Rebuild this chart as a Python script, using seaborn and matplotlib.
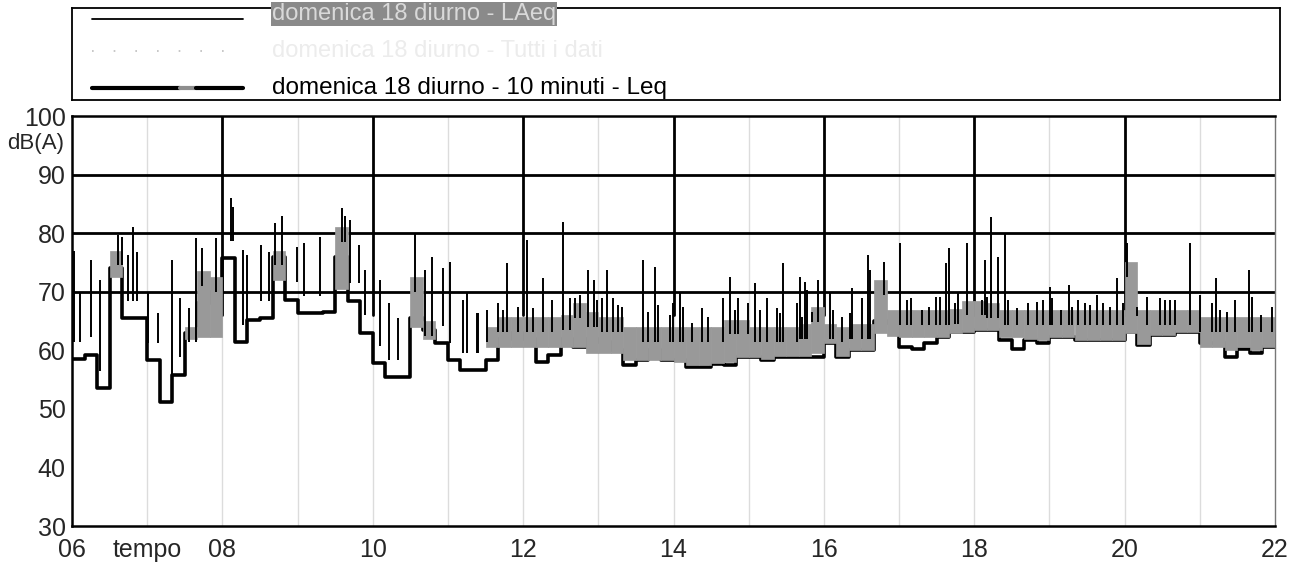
import numpy as np
import pandas as pd
import seaborn as sns
import matplotlib.pyplot as plt

# 10-minute Leq, 96 intervals from 06:00 to 22:00
leq_10min = [58.5, 59.2, 53.5, 74.0, 65.5, 65.5, 58.3, 51.2, 55.8, 63.0, 68.0, 70.0,
             75.7, 61.4, 65.2, 65.5, 76.0, 68.6, 66.3, 66.3, 66.5, 76.0, 68.5, 63.0,
             57.8, 55.4, 55.4, 65.5, 63.5, 61.2, 58.3, 56.6, 56.6, 58.3, 62.0, 63.0,
             62.0, 58.0, 59.2, 62.0, 60.5, 62.0, 61.5, 60.0, 57.5, 58.3, 60.0, 58.3,
             58.3, 57.1, 57.1, 57.7, 57.5, 58.8, 58.8, 58.3, 58.8, 58.8, 58.8, 58.8,
             61.2, 58.8, 60.0, 60.0, 65.0, 64.6, 60.5, 60.3, 61.2, 62.3, 63.2, 63.2,
             63.5, 63.5, 61.7, 60.3, 61.7, 61.2, 62.3, 62.3, 61.7, 61.7, 61.7, 61.7,
             63.2, 60.9, 62.6, 62.6, 63.2, 63.2, 61.2, 61.2, 58.8, 60.3, 59.5, 60.6]

# short LAeq trace (grey), low / high inside each 10-minute interval
nan = np.nan
laeq_lo = [nan, nan, nan, 72.5, nan, nan, nan, nan, nan, 62.0, 62.3, 62.3,
           nan, nan, nan, nan, 72.0, nan, nan, nan, nan, 70.5, nan, nan,
           nan, nan, nan, 64.0, 62.0, nan, nan, nan, nan, 60.5, 60.5, 60.5,
           60.5, 60.5, 60.5, 60.5, 60.5, 59.5, 59.5, 59.5, 58.3, 58.3, 58.3, 58.3,
           58.0, 57.5, 57.5, 57.8, 58.0, 58.8, 58.8, 58.5, 59.0, 59.0, 59.0, 59.5,
           61.2, 59.0, 60.0, 60.0, 63.0, 62.5, 62.3, 62.3, 62.3, 62.3, 63.0, 63.2,
           63.5, 63.5, 62.3, 62.3, 62.0, 61.7, 62.3, 62.3, 61.7, 61.7, 61.7, 61.7,
           63.0, 61.0, 62.6, 62.6, 63.2, 63.2, 60.5, 60.5, 60.0, 60.5, 60.0, 60.5]
laeq_hi = [nan, nan, nan, 77.0, nan, nan, nan, nan, nan, 64.0, 73.5, 72.5,
           nan, nan, nan, nan, 77.0, nan, nan, nan, nan, 81.0, nan, nan,
           nan, nan, nan, 72.5, 65.0, nan, nan, nan, nan, 64.0, 65.7, 65.7,
           65.7, 65.7, 65.7, 66.0, 68.0, 66.5, 65.7, 65.7, 64.0, 64.0, 64.0, 64.0,
           64.0, 64.0, 64.0, 64.0, 65.2, 65.2, 64.0, 64.0, 64.0, 64.0, 64.5, 67.4,
           64.5, 64.0, 64.5, 64.5, 72.0, 66.9, 66.9, 66.9, 66.9, 66.9, 67.0, 68.5,
           68.5, 68.0, 66.9, 66.9, 66.9, 66.9, 66.9, 66.9, 66.9, 66.9, 66.9, 66.9,
           75.0, 66.9, 66.9, 66.9, 66.9, 66.9, 65.7, 65.7, 65.7, 65.7, 65.7, 65.7]

# short peaks (black spikes): hour, level
peak_hours = [6.03, 6.11, 6.25, 6.37, 6.61, 6.66, 6.74, 6.81, 6.86, 7.01, 7.14, 7.33,
              7.44, 7.56, 7.65, 7.73, 7.91, 8.11, 8.14, 8.27, 8.33, 8.51, 8.62, 8.70,
              8.79, 8.99, 9.09, 9.30, 9.59, 9.63, 9.70, 9.82, 9.90, 10.10, 10.22, 10.34,
              10.56, 10.69, 10.79, 10.93, 11.03, 11.20, 11.25, 11.39, 11.78, 12.05, 12.26, 12.53,
              12.86, 12.94, 13.11, 13.59, 13.75, 14.75, 15.08, 15.45, 15.68, 15.75, 15.92, 16.37,
              16.59, 16.61, 16.80, 17.01, 17.62, 17.66, 17.91, 18.14, 18.22, 18.31, 18.41, 19.01,
              19.26, 19.90, 20.03, 20.87, 21.21, 21.65,
              11.40, 11.52, 11.67, 11.73, 11.93, 12.13, 12.38, 12.62, 12.69, 12.76, 12.98, 13.05,
              13.19, 13.26, 13.31, 13.66, 13.79, 13.95, 13.99, 14.09, 14.13, 14.24, 14.38, 14.46,
              14.66, 14.82, 14.86, 14.99, 15.15, 15.24, 15.37, 15.41, 15.64, 15.71, 15.77, 15.84,
              16.08, 16.12, 16.24, 16.35, 16.51, 17.10, 17.16, 17.31, 17.40, 17.49, 17.55, 17.74,
              17.78, 18.10, 18.17, 18.45, 18.57, 18.71, 18.83, 18.91, 19.03, 19.16, 19.38, 19.30,
              19.47, 19.54, 19.63, 19.71, 19.80, 19.98, 20.16, 20.30, 20.47, 20.54, 20.60, 20.67,
              21.00, 21.16, 21.27, 21.36, 21.47, 21.69, 21.82, 21.96]
peak_levels = [77.0, 69.8, 75.4, 72.0, 79.7, 79.3, 76.2, 81.0, 76.8, 69.8, 66.3, 75.4,
               69.0, 67.2, 79.1, 77.4, 79.1, 86.0, 84.4, 77.1, 76.2, 78.0, 76.8, 81.7,
               83.0, 77.6, 78.3, 79.3, 84.3, 83.0, 82.2, 78.0, 73.7, 72.0, 68.0, 65.5,
               80.0, 73.7, 75.9, 74.0, 75.0, 68.6, 69.8, 66.3, 74.9, 78.8, 72.3, 81.9,
               73.7, 72.0, 73.7, 75.4, 74.2, 72.5, 71.5, 74.9, 72.5, 71.6, 72.0, 70.6,
               76.2, 73.7, 75.0, 78.3, 74.9, 77.4, 78.3, 75.4, 82.7, 75.9, 80.0, 70.8,
               71.1, 72.3, 78.3, 78.3, 72.3, 73.7,
               66.3, 66.9, 68.0, 66.9, 67.4, 67.2, 68.6, 68.9, 69.0, 69.4, 68.6, 68.9,
               68.9, 67.7, 67.4, 66.5, 67.7, 66.0, 68.0, 69.8, 67.4, 64.6, 67.2, 65.7,
               69.0, 66.9, 69.0, 68.0, 66.9, 69.0, 67.2, 66.3, 68.0, 65.7, 70.3, 66.5,
               69.8, 66.9, 65.7, 66.3, 69.0, 68.6, 68.9, 66.9, 67.4, 69.1, 69.1, 68.0,
               69.8, 68.6, 69.1, 68.6, 67.2, 68.0, 68.2, 68.6, 68.9, 66.9, 68.6, 67.4,
               68.0, 67.7, 69.4, 68.0, 67.4, 68.0, 67.4, 69.1, 68.9, 68.6, 68.6, 68.6,
               69.4, 68.0, 66.9, 66.5, 68.6, 69.1, 66.0, 67.4]

hour_ticks = list(range(6, 23))
hour_labels = ["06", "tempo", "08", "", "10", "", "12", "", "14", "", "16", "", "18", "", "20", "", "22"]
legend_labels = ["domenica 18 diurno - LAeq",
                 "domenica 18 diurno - Tutti i dati",
                 "domenica 18 diurno - 10 minuti - Leq"]

sns.set_style("white")
plt.rcParams["font.family"] = ["Liberation Sans", "DejaVu Sans"]

W, H = 1298, 566
fig = plt.figure(figsize=(W / 100, H / 100), dpi=100)
ax = fig.add_axes([72 / W, 1 - 526 / H, (1275 - 72) / W, (526 - 116) / H])

t_edges = 6 + np.arange(97) / 6
df = pd.DataFrame({"ora": t_edges, "Leq": leq_10min + [leq_10min[-1]]})

# faint hour lines, black grid in the upper part
for h in hour_ticks[1:-1]:
    ax.axvline(h, color="#dcdcdc", lw=1.0, zorder=0)
for h in range(8, 22, 2):
    ax.axvline(h, ymin=(66 - 30) / 70, ymax=1, color="black", lw=2.0, zorder=1)
for y in [70, 80, 90]:
    ax.axhline(y, color="black", lw=2.0, zorder=1)

# 10-minute Leq
sns.lineplot(data=df, x="ora", y="Leq", drawstyle="steps-post", color="black",
             lw=2.6, ax=ax, zorder=2)

# short-term LAeq band (grey), one block per 10-minute interval
lo = np.array(laeq_lo)
hi = np.array(laeq_hi)
ok = ~np.isnan(lo)
ax.bar(t_edges[:-1][ok], (hi - lo)[ok], bottom=lo[ok], width=1 / 6, align="edge",
       color="#999999", edgecolor="#999999", lw=0.5, zorder=3)

# short peaks
ph = np.array(peak_hours)
pl = np.array(peak_levels)
idx = np.clip(((ph - 6) * 6).astype(int), 0, 95)
band = hi[idx]
base = np.where(np.isnan(band), np.array(leq_10min)[idx] + 3, band - 2.5)
base = np.minimum(base, pl - 1.5)
ax.vlines(ph, base, pl, color="black", lw=1.4, zorder=4)

ax.set_xlim(6, 22)
ax.set_ylim(30, 100)
ax.set_xticks(hour_ticks)
ax.set_xticklabels(hour_labels)
ax.set_yticks(range(30, 101, 10))
ax.set_xlabel("")
ax.set_ylabel("")
ax.tick_params(axis="both", labelsize=18, direction="inout", length=7, width=1.2,
               color="black", pad=1)
ax.tick_params(axis="x", pad=5)
for s in ["left", "bottom", "top"]:
    ax.spines[s].set_color("black")
    ax.spines[s].set_linewidth(1.8)
ax.spines["right"].set_color("#777777")
ax.spines["right"].set_linewidth(1.0)
fig.text(36 / W, 1 - 144 / H, "dB(A)", fontsize=16, ha="center", va="center")

# legend box
lg = fig.add_axes([72 / W, 1 - 100 / H, (1280 - 72) / W, 92 / H])
lg.set_xlim(72, 1280)
lg.set_ylim(100, 8)
lg.set_xticks([])
lg.set_yticks([])
for s in lg.spines.values():
    s.set_color("black")
    s.set_linewidth(1.3)
rows = [14, 51, 88]
lg.plot([92, 243], [19, 19], color="black", lw=1.3)
lg.plot([92, 243], [rows[1], rows[1]], color="#bdbdbd", lw=1.2, ls=(0, (1, 12)))
lg.plot([92, 180], [rows[2], rows[2]], color="black", lw=3)
lg.plot([180, 196], [rows[2], rows[2]], color="#8e8e8e", lw=3)
lg.plot([196, 243], [rows[2], rows[2]], color="black", lw=3)
lg.text(272, rows[0], legend_labels[0], fontsize=17, va="center", color="#d9d9d9",
        bbox=dict(facecolor="#8a8a8a", edgecolor="none", pad=0.5))
lg.text(272, rows[1], legend_labels[1], fontsize=17, va="center", color="#ececec")
lg.text(272, rows[2], legend_labels[2], fontsize=17.5, va="center", color="black")

fig.savefig("out.png", dpi=100)
